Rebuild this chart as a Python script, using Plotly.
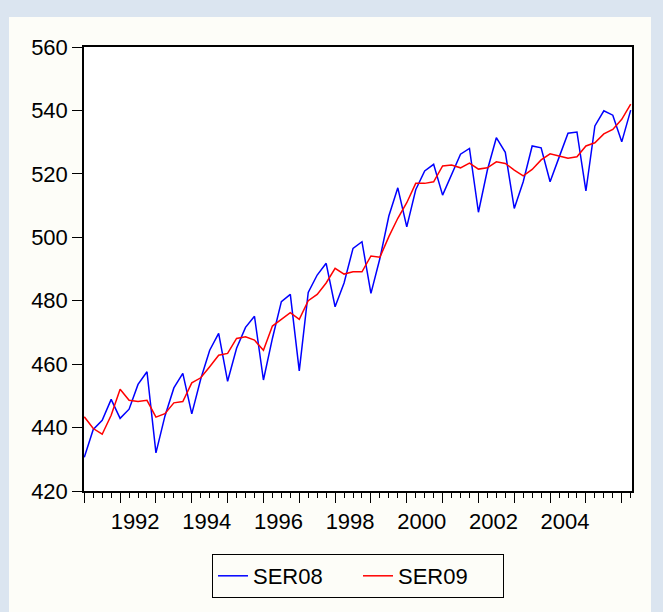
import plotly.graph_objects as go

# Quarterly observations, 1991Q1 .. 2006Q2
start_year = 1991
n_obs = 62
quarters = [f"{start_year + i // 4}Q{i % 4 + 1}" for i in range(n_obs)]
x_pos = [start_year + i / 4 for i in range(n_obs)]

ser08 = [430.6, 439.4, 442.3, 448.9, 442.9, 445.8, 453.6, 457.6,
         432.0, 443.6, 452.5, 457.1, 444.3, 455.3, 464.4, 469.7,
         454.6, 465.0, 471.6, 475.1, 455.0, 468.1, 479.7, 482.0,
         457.9, 482.6, 488.1, 491.8, 478.1, 485.6, 496.5, 498.6,
         482.3, 493.3, 506.7, 515.6, 503.3, 515.0, 520.9, 523.0,
         513.3, 519.6, 526.2, 528.0, 507.9, 521.2, 531.4, 526.8,
         509.1, 517.5, 528.8, 528.2, 517.5, 525.2, 532.8, 533.2,
         514.6, 535.1, 539.9, 538.5, 530.1, 540.1]

ser09 = [443.4, 439.7, 437.9, 443.9, 452.1, 448.6, 448.2, 448.6,
         443.3, 444.4, 447.8, 448.2, 454.1, 455.7, 459.2, 462.8,
         463.4, 468.1, 468.6, 467.6, 464.4, 472.0, 474.1, 476.2,
         474.1, 480.0, 482.0, 485.6, 490.2, 488.4, 489.1, 489.1,
         494.1, 493.7, 500.2, 506.0, 510.9, 517.0, 517.0, 517.5,
         522.5, 522.8, 521.9, 523.4, 521.5, 521.9, 523.8, 523.3,
         521.2, 519.4, 521.4, 524.4, 526.3, 525.7, 524.9, 525.4,
         528.8, 529.8, 532.6, 534.0, 537.2, 542.0]

year_ticks = list(range(1991, 2007))
labelled_years = [1992, 1994, 1996, 1998, 2000, 2002, 2004]
year_text = [str(y) if y in labelled_years else "" for y in year_ticks]

y_ticks = [420, 440, 460, 480, 500, 520, 540, 560]

FONT = "Arial, Liberation Sans, sans-serif"
W, H = 663, 612
L, R, T, B = 84, 31, 47, 121
pw, ph = W - L - R, H - T - B

def px_x(p):
    return (p - L) / pw

def px_y(p):
    return (H - B - p) / ph

fig = go.Figure()
fig.add_trace(go.Scatter(x=x_pos, y=ser08, mode="lines", name="SER08",
                         text=quarters, line=dict(color="#0000ff", width=1.5)))
fig.add_trace(go.Scatter(x=x_pos, y=ser09, mode="lines", name="SER09",
                         text=quarters, line=dict(color="#ff0000", width=1.5)))

blue_bg = "#dbe5f0"
shapes = [
    dict(type="rect", xref="paper", yref="paper", x0=px_x(-5), x1=px_x(9),
         y0=px_y(H + 5), y1=px_y(-5), fillcolor=blue_bg, line_width=0, layer="below"),
    dict(type="rect", xref="paper", yref="paper", x0=px_x(-5), x1=px_x(W + 5),
         y0=px_y(17), y1=px_y(-5), fillcolor=blue_bg, line_width=0, layer="below"),
    dict(type="rect", xref="paper", yref="paper", x0=px_x(651), x1=px_x(W + 5),
         y0=px_y(H + 5), y1=px_y(-5), fillcolor=blue_bg, line_width=0, layer="below"),
]

fig.update_layout(
    width=W, height=H,
    margin=dict(l=L, r=R, t=T, b=B),
    paper_bgcolor="#fdfdf8",
    plot_bgcolor="#ffffff",
    font=dict(family=FONT, size=22, color="#000000"),
    shapes=shapes,
    showlegend=True,
    legend=dict(orientation="h", x=0.5, xanchor="center",
                y=px_y(554), yanchor="top",
                entrywidth=100, entrywidthmode="pixels",
                bordercolor="#000000", borderwidth=1,
                bgcolor="rgba(0,0,0,0)",
                font=dict(family=FONT, size=22, color="#000000")),
    xaxis=dict(range=[1990.992, 2006.286], tickmode="array",
               tickvals=year_ticks, ticktext=year_text,
               ticks="outside", ticklen=10, tickwidth=1.3, tickcolor="#000",
               ticklabelshift=15,
               minor=dict(tickmode="linear", tick0=1991, dtick=0.25,
                          ticks="outside", ticklen=5, tickwidth=1, tickcolor="#000"),
               showgrid=False, zeroline=False,
               showline=True, linecolor="#000", linewidth=1.5, mirror=True,
               tickfont=dict(family=FONT, size=22, color="#000")),
    yaxis=dict(range=[420, 560], tickmode="array", tickvals=y_ticks,
               ticks="outside", ticklen=10, tickwidth=1.3, tickcolor="#000",
               showgrid=False, zeroline=False,
               showline=True, linecolor="#000", linewidth=1.5, mirror=True,
               tickfont=dict(family=FONT, size=22, color="#000")),
)

fig.write_html(
    "out.html",
    config={"displayModeBar": False},
    post_script="document.body.style.margin='0';document.body.style.overflow='hidden';",
)
